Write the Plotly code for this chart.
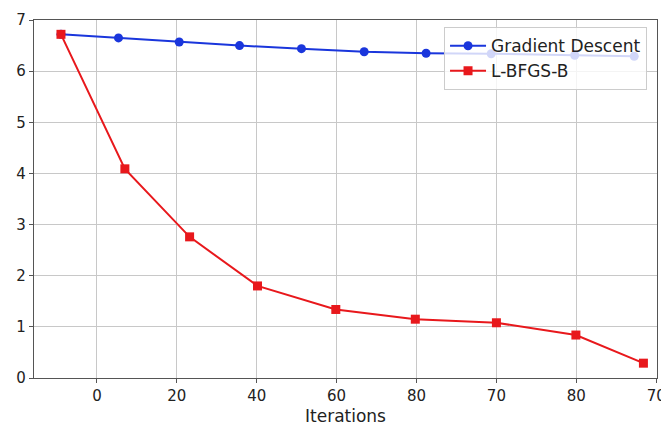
import plotly.graph_objects as go

gd_x = [-9, 5.4, 20.6, 35.7, 51.2, 66.9, 82.4, 98.7, 119.6, 134.5]
gd_y = [6.72, 6.65, 6.57, 6.50, 6.44, 6.38, 6.35, 6.34, 6.31, 6.29]

lb_x = [-9, 7, 23.2, 40.2, 59.8, 79.7, 100, 119.9, 136.8]
lb_y = [6.72, 4.09, 2.76, 1.80, 1.34, 1.15, 1.08, 0.84, 0.29]

x_tickvals = [0, 20, 40, 60, 80, 100, 120, 140]
x_ticktext = ["0", "20", "40", "60", "80", "70", "80", "70"]
y_tickvals = [0, 1, 2, 3, 4, 5, 6, 7]

blue = "#1a36dc"
red = "#e8181c"
font = "DejaVu Sans"

fig = go.Figure()
fig.add_trace(go.Scatter(x=gd_x, y=gd_y, mode="lines+markers", name="Gradient Descent",
                         line=dict(color=blue, width=2),
                         marker=dict(symbol="circle", size=9, color=blue)))
fig.add_trace(go.Scatter(x=lb_x, y=lb_y, mode="lines+markers", name="L-BFGS-B",
                         line=dict(color=red, width=2),
                         marker=dict(symbol="square", size=9, color=red)))

axis_common = dict(showgrid=True, gridcolor="#c8c8c8", gridwidth=1,
                   showline=True, linecolor="#555555", linewidth=1.2, mirror=True,
                   ticks="outside", ticklen=4, tickcolor="#555555", automargin=False,
                   tickfont=dict(family=font, size=15, color="#222222"), zeroline=False)

fig.update_xaxes(range=[-15.75, 140.2], tickvals=x_tickvals, ticktext=x_ticktext,
                 title=dict(text="Iterations", font=dict(family=font, size=17, color="#222222"), standoff=6),
                 **axis_common)
fig.update_yaxes(range=[0, 7], tickvals=y_tickvals, **axis_common)

# the page body adds an 8px offset; margins compensate so the plot area lands where the reference has it
fig.update_layout(
    width=669, height=427,
    margin=dict(l=26, r=19.5, t=12, b=57),
    paper_bgcolor="white", plot_bgcolor="white",
    font=dict(family=font, size=15, color="#222222"),
    showlegend=True,
    legend=dict(x=0.984, y=0.98, xanchor="right", yanchor="top",
                bgcolor="rgba(255,255,255,0.8)", bordercolor="#cccccc", borderwidth=1,
                font=dict(family=font, size=17, color="#222222"),
                tracegroupgap=2, itemwidth=36),
)

fig.write_html("out.html")
